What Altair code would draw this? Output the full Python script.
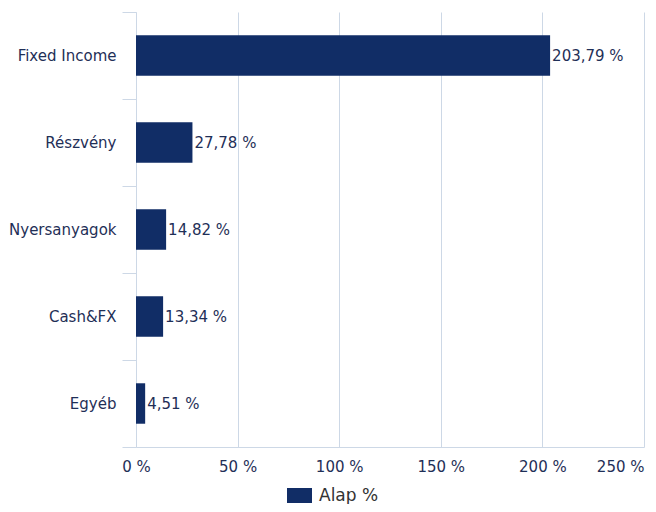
import altair as alt
import pandas as pd

categories = ["Fixed Income", "Részvény", "Nyersanyagok", "Cash&FX", "Egyéb"]
values = [203.79, 27.78, 14.82, 13.34, 4.51]
series_name = "Alap %"
x_ticks = [0, 50, 100, 150, 200, 250]

labels = [f"{v:.2f}".replace(".", ",") + " %" for v in values]
df = pd.DataFrame({
    "cat": categories,
    "val": values,
    "label": labels,
    "series": [series_name] * len(categories),
})

FONT = "DejaVu Sans"
TEXT = "#1f2f57"
BAR = "#112d66"
GRID = "#cdd8e6"

y = alt.Y(
    "cat:N",
    sort=categories,
    scale=alt.Scale(paddingInner=0, paddingOuter=0),
    axis=alt.Axis(
        title=None,
        tickBand="extent",
        tickSize=14,
        tickColor=GRID,
        domainColor=GRID,
        grid=False,
        labelFont=FONT,
        labelFontSize=15,
        labelColor=TEXT,
        labelPadding=6,
    ),
)
x = alt.X(
    "val:Q",
    scale=alt.Scale(domain=[0, 250], nice=False),
    axis=alt.Axis(
        title=None,
        values=x_ticks,
        ticks=False,
        grid=True,
        gridColor=GRID,
        domainColor=GRID,
        labelExpr="datum.value + ' %'",
        labelAlign={"condition": {"test": "datum.value == 250", "value": "right"}, "value": "center"},
        labelFont=FONT,
        labelFontSize=15,
        labelColor=TEXT,
        labelPadding=12,
    ),
)

base = alt.Chart(df)

bars = base.mark_bar(height=alt.RelativeBandSize(0.465)).encode(
    x=x,
    y=y,
    color=alt.Color(
        "series:N",
        scale=alt.Scale(domain=[series_name], range=[BAR]),
        legend=alt.Legend(
            title=None,
            orient="none",
            legendX=151,
            legendY=471,
            padding=0,
            symbolType="M-1,-0.6H1V0.6H-1Z",
            symbolSize=625,
            symbolStrokeWidth=0,
            symbolOpacity=1,
            labelFont=FONT,
            labelFontSize=17,
            labelColor="#333333",
            labelOffset=7,
        ),
    ),
)

text = base.mark_text(
    align="left", baseline="middle", dx=2, font=FONT, fontSize=15, color=TEXT
).encode(x=x, y=y, text="label:N")

chart = (
    alt.layer(bars, text)
    .properties(
        width=508,
        height=435,
        padding={"left": 128, "top": 4, "right": 2, "bottom": 57},
        autosize=alt.AutoSizeParams(type="none"),
    )
    .configure_view(stroke=None)
)

chart.save("out.html", embed_options={"renderer": "svg", "actions": False})
